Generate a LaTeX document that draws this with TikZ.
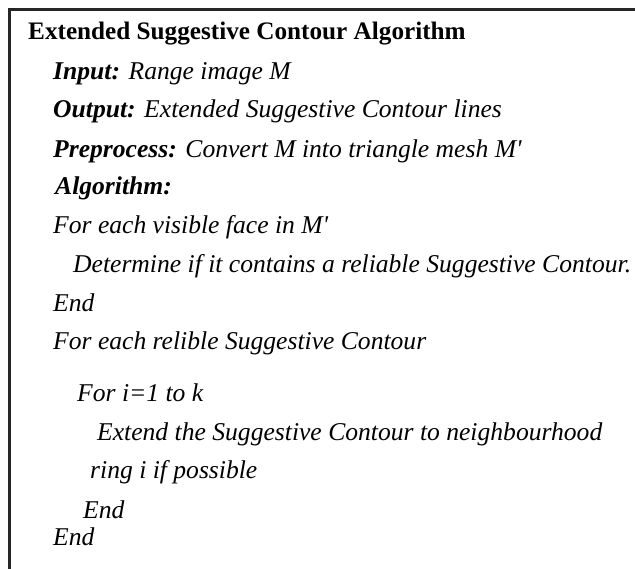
\documentclass[tikz,border=0pt]{standalone}
\usepackage{fontspec}
\setmainfont{Liberation Serif}
\tikzset{
  title/.style={inner sep=0pt, anchor=base west, font=\bfseries\fontsize{25.2}{25.2}\selectfont},
  codeline/.style={inner sep=0pt, anchor=base west, font=\itshape\fontsize{25.6}{25.6}\selectfont},
  frame/.style={line width=2.5pt, black!85, line cap=rect},
}

\begin{document}
\begin{tikzpicture}[x=1pt,y=1pt]
        \useasboundingbox (0,0) rectangle (635,-569);
        \coordinate (tr) at (635,-9.5);
        \coordinate (tl) at (9.5,-9.5);
        \coordinate (bl) at (9.5,-569);
        \draw[frame] (tr) -- (tl) -- (bl);

        \node[title] (head) at (28,-40) {Extended Suggestive Contour Algorithm};
        \node[codeline] (input) at (53,-80) {\textbf{Input:} Range image M};
        \node[codeline] (output) at (53,-118) {\textbf{Output:} Extended Suggestive Contour lines};
        \node[codeline] (prep) at (53,-158) {\textbf{Preprocess:} Convert M into triangle mesh M\textquotesingle};
        \node[codeline] (algo) at (55,-195) {\textbf{Algorithm:}};
        \node[codeline] (for1) at (53,-234) {For each visible face in M\textquotesingle};
        \node[codeline] (det) at (73,-273) {Determine if it contains a reliable Suggestive Contour.};
        \node[codeline] (end1) at (53,-312) {End};
        \node[codeline] (for2) at (53,-350) {For each relible Suggestive Contour};
        \node[codeline] (for3) at (77,-402) {For i=1 to k};
        \node[codeline] (ext) at (97,-440) {Extend the Suggestive Contour to neighbourhood};
        \node[codeline] (ring) at (90,-478) {ring i if possible};
        \node[codeline] (end2) at (83,-518) {End};
        \node[codeline] (end3) at (53,-545) {End};
    \end{tikzpicture}
\end{document}
